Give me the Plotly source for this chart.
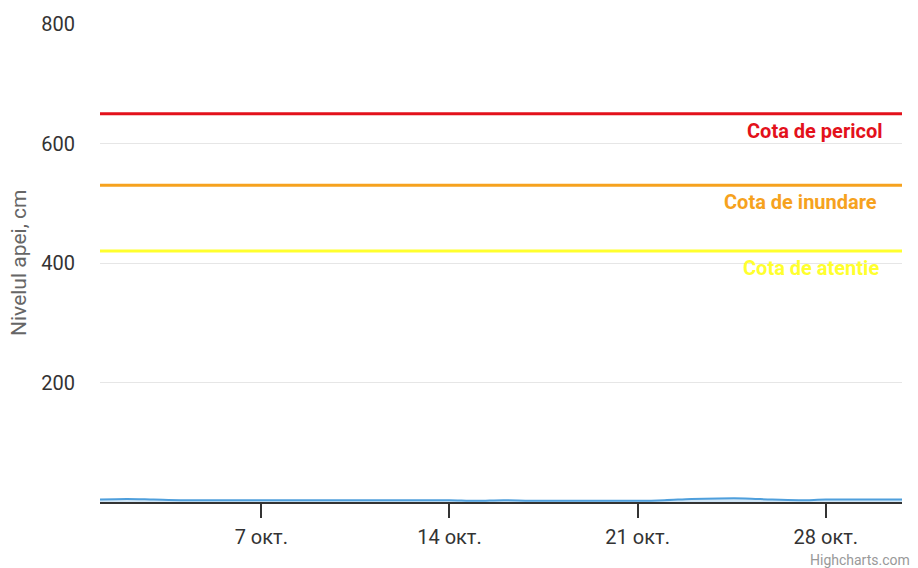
import plotly.graph_objects as go

# ---- data ----
dates = ["2024-10-%02d" % d for d in range(1, 32)]
levels = [4, 5, 4, 3, 3, 3, 3, 3, 3, 3, 3, 3, 3, 3, 2, 3, 2, 2, 2, 2, 2, 3, 5, 6, 6, 4, 3, 4, 4, 4, 4]

threshold_names = ["Cota de pericol", "Cota de inundare", "Cota de atentie"]
threshold_values = [650, 530, 420]
threshold_colors = ["#e3111b", "#f6a21e", "#ffff2e"]
label_right_px = [885, 879, 881]

y_ticks = [200, 400, 600, 800]
x_ticks = ["2024-10-07", "2024-10-14", "2024-10-21", "2024-10-28"]
x_tick_labels = ["7 окт.", "14 окт.", "21 окт.", "28 окт."]

# page has an 8px body margin; figure sized so the plot lands where the reference has it
OFF = 8
W, H = 918 - OFF, 568 - OFF
PL, PR, PT, PB = 100, 902, 24, 502  # plot area in page pixels
ML, MT = PL - OFF, PT - OFF
MR = W - ML - (PR - PL)
MB = H - MT - (PB - PT)
PW, PH = PR - PL, PB - PT

fig = go.Figure()
fig.add_trace(go.Scatter(
    x=dates, y=levels, mode="lines",
    line=dict(color="#4f9fdc", width=2, shape="spline"),
    fill="tozeroy", fillcolor="rgba(79,159,220,0.25)",
    hoverinfo="x+y", showlegend=False,
))

for name, val, col, rpx in zip(threshold_names, threshold_values, threshold_colors, label_right_px):
    fig.add_shape(type="line", xref="paper", x0=0, x1=1, yref="y", y0=val, y1=val,
                  line=dict(color=col, width=3), layer="above")
    fig.add_annotation(text="<b>%s</b>" % name, xref="paper", x=(rpx - PL) / PW,
                       xanchor="right", yref="y", y=val, yanchor="middle", yshift=-17,
                       showarrow=False, font=dict(family="Roboto", size=20, color=col))

fig.add_annotation(text="Nivelul apei, cm", xref="paper", x=(19 - PL) / PW, xanchor="center",
                   yref="paper", y=0.5, yanchor="middle", textangle=-90, showarrow=False,
                   font=dict(family="Roboto", size=21, color="#666666"))
fig.add_annotation(text="Highcharts.com", xref="paper", x=(912 - PL) / PW, xanchor="right",
                   yref="paper", y=(PB - 560) / PH, yanchor="middle", showarrow=False,
                   font=dict(family="Roboto", size=14, color="#999999"))

fig.update_layout(
    width=W, height=H,
    margin=dict(l=ML, r=MR, t=MT, b=MB),
    paper_bgcolor="white", plot_bgcolor="white",
    font=dict(family="Roboto", size=20, color="#333333"),
    hovermode="x",
)
fig.update_xaxes(
    type="date", range=["2024-10-01", "2024-10-30 20:00"],
    tickvals=x_ticks, ticktext=x_tick_labels, automargin=False,
    showgrid=False, showline=True, linecolor="#333333", linewidth=2,
    ticks="outside", ticklen=14, tickcolor="#333333", tickwidth=1.5,
    ticklabelstandoff=2,
    tickfont=dict(family="Roboto", size=20, color="#333333"),
    zeroline=False,
)
fig.update_yaxes(
    range=[0, 800], tickvals=y_ticks, automargin=False,
    showgrid=True, gridcolor="#e6e6e6", gridwidth=1,
    zeroline=False, showline=False, ticks="",
    ticklabelstandoff=24,
    tickfont=dict(family="Roboto", size=20, color="#333333"),
)

fig.write_html("out.html")
